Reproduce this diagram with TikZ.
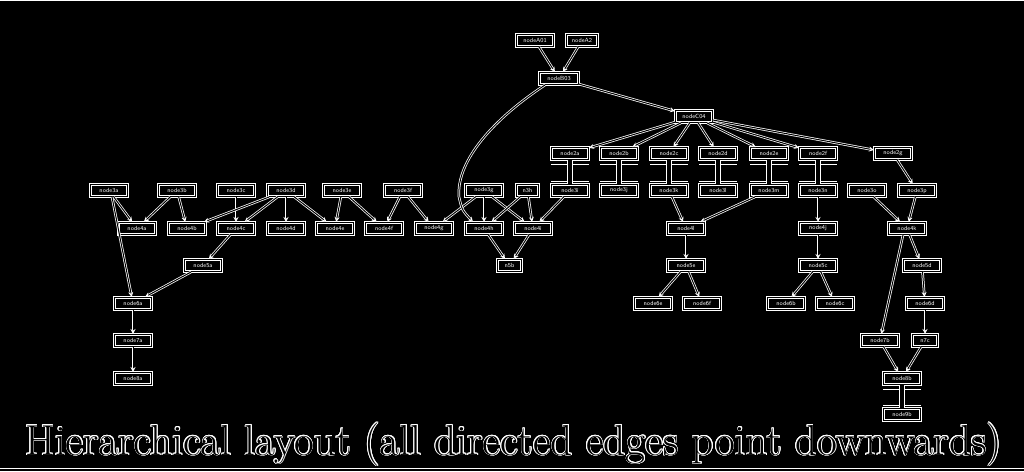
\documentclass[tikz,border=0pt]{standalone}
\usepackage{contour}
\usetikzlibrary{arrows.meta}
\contourlength{0.7pt}
\begin{document}
\begin{tikzpicture}[x=1pt,y=-1pt,
  box/.style={draw=white, double=black, double distance=1pt, line width=1pt,
    minimum width=37pt, minimum height=12pt, inner sep=0pt, text=white,
    font=\fontsize{6}{6}\selectfont\sffamily},
  edge/.style={draw=white, double=black, double distance=1.0pt, line width=0.75pt,
    -{Stealth[length=5pt,width=5pt,open,fill=black]}},
  beam/.style={draw=white, double=black, double distance=4pt, line width=1pt},
  flange/.style={draw=white, line width=1pt}]
\path[use as bounding box, fill=black] (0,0) rectangle (1024,471);
\draw[white, line width=1pt] (0,0.5) -- (1024,0.5) (0,468.5) -- (1024,468.5);
% top
\node[box] (A1) at (535,40.5) {nodeA01};
\node[box, minimum width=31pt] (A2) at (582,40.5) {nodeA2};
\node[box, minimum width=39pt] (B) at (559,78.5) {nodeB03};
\node[box] (C) at (694,116.5) {nodeC04};
% row 2
\foreach \n/\x in {a/570,b/619,c/669,d/718,e/769,f/818,g/893}
  \node[box] (R2\n) at (\x,153.5) {node2\n};
% row 3
\foreach \n/\x in {a/109,b/177,c/236,d/286,e/342,f/403,g/484,i/570,j/619,k/669,l/718,m/769,n/818,o/867,p/917}
  \node[box] (R3\n) at (\x,190.5) {node3\n};
\node[box, minimum width=22pt] (R3h) at (527.5,190.5) {n3h};
% row 4
\foreach \n/\x in {a/137,b/187,c/236,d/286,e/335,f/384,g/434,h/484,i/533,l/686,j/818,k/907}
  \node[box] (R4\n) at (\x,228.5) {node4\n};
% row 5
\foreach \n/\x in {a/203,e/686,c/818,d/922}
  \node[box] (R5\n) at (\x,265.5) {node5\n};
\node[box, minimum width=24pt] (R5b) at (509.5,265.5) {n5b};
% row 6
\foreach \n/\x in {a/133,e/653,f/702,b/786,c/835,d/925}
  \node[box] (R6\n) at (\x,303.5) {node6\n};
% row 7
\foreach \n/\x in {a/133,b/880}
  \node[box] (R7\n) at (\x,340.5) {node7\n};
\node[box, minimum width=25pt] (R7c) at (925,340.5) {n7c};
% row 8, 9
\node[box] (R8a) at (133,378.5) {node8a};
\node[box] (R8b) at (902,378.5) {node8b};
\node[box] (R9b) at (902,414.5) {node9b};
% beams
\foreach \u/\v in {R2a/R3i,R2b/R3j,R2c/R3k,R2d/R3l,R2e/R3m,R2f/R3n,R8b/R9b}{
  \draw[flange] ([yshift=-4pt]\u.south west) -- ([yshift=-4pt]\u.south east);
  \draw[flange] ([yshift=3pt]\v.north west) -- ([yshift=3pt]\v.north east);
  \draw[beam] (\u.south) -- (\v.north);
}
% edges
\foreach \u/\v in {A1/B,A2/B,B/C,C/R2a,C/R2b,C/R2c,C/R2d,C/R2e,C/R2f,C/R2g,
  R3a/R4a,R3b/R4a,R3b/R4b,R3c/R4c,R3d/R4b,R3d/R4c,R3d/R4d,R3d/R4e,
  R4c/R5a,R5a/R6a,R6a/R7a,R7a/R8a,
  R3e/R4e,R3e/R4f,R3f/R4f,R3f/R4g,R3g/R4g,R3g/R4h,R3g/R4i,R3h/R4h,R3h/R4i,R3i/R4i,
  R4h/R5b,R4i/R5b,R3k/R4l,R3m/R4l,R4l/R5e,R5e/R6e,R5e/R6f,
  R3n/R4j,R4j/R5c,R5c/R6b,R5c/R6c,
  R2g/R3p,R3o/R4k,R3p/R4k,R4k/R5d,R5d/R6d,R6d/R7c,R7b/R8b,R7c/R8b}
  \draw[edge] (\u) -- (\v);
\draw[edge] ([xshift=3pt]R3a.south) -- (R6a);
\draw[edge] ([xshift=-4pt]R4k.south) -- (R7b);
\coordinate (bend) at (459,197);
\draw[edge] ([xshift=6pt]B.south west) .. controls (495,118) and (456,160) .. (bend)
  .. controls (462,210) .. ([xshift=8pt]R4h.north west);
% title
\node[anchor=base, font=\fontsize{43.3}{44}\selectfont] (title) at (513.5,455)
  {\contour{white}{\textcolor{black}{Hierarchical layout (all directed edges point downwards)}}};
\end{tikzpicture}
\end{document}
